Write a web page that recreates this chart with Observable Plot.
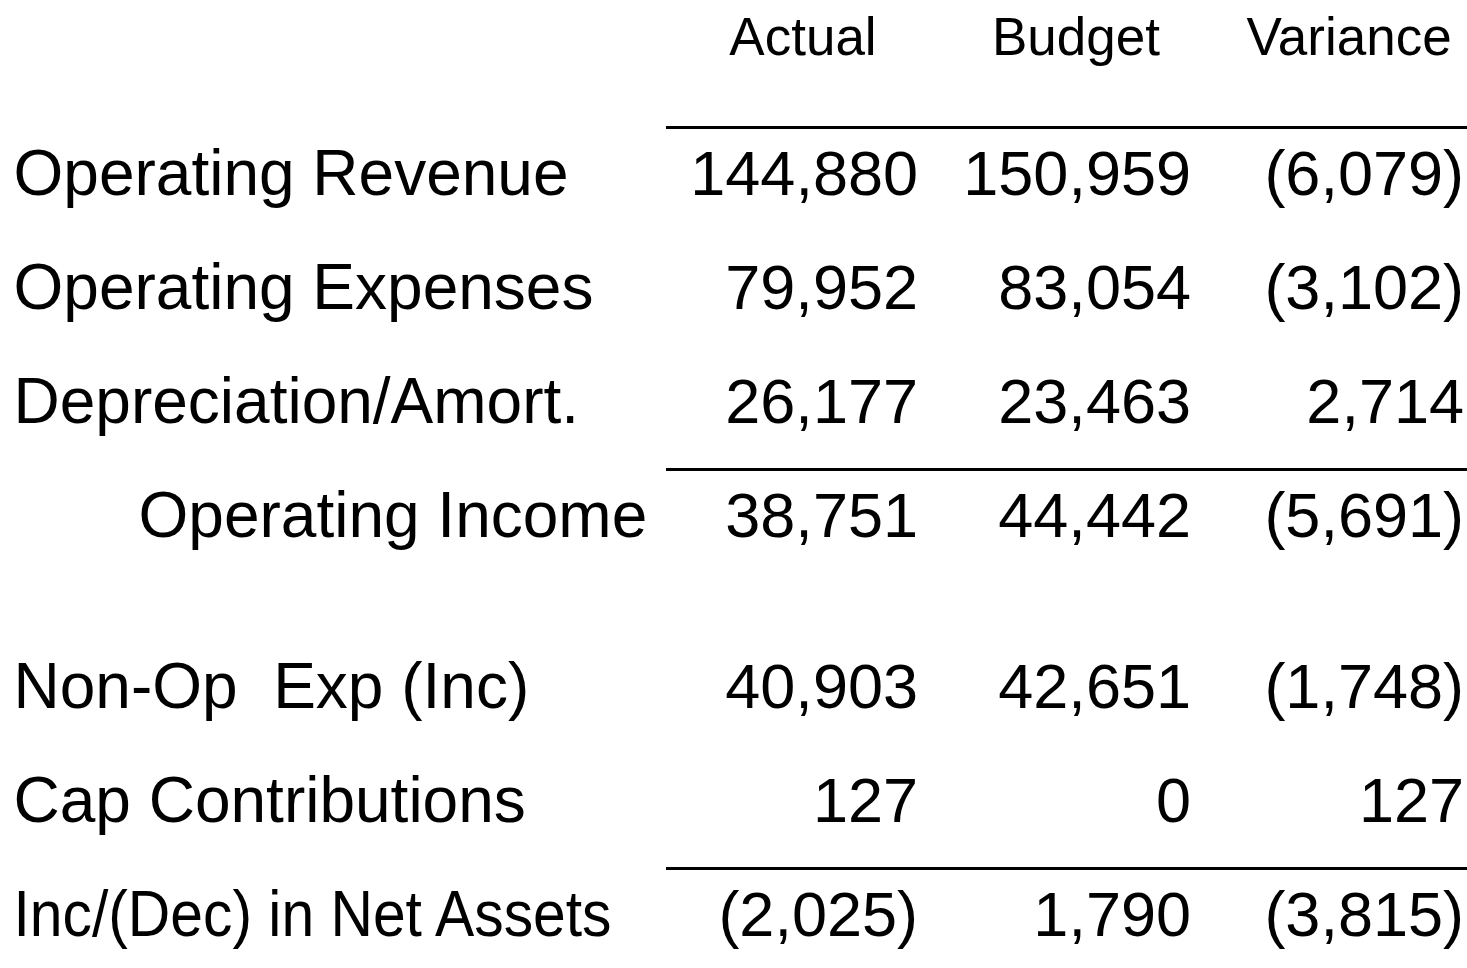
<!DOCTYPE html>
<html>
<head>
<meta charset="utf-8">
<script src="https://cdn.jsdelivr.net/npm/d3@7"></script>
<script src="https://cdn.jsdelivr.net/npm/@observablehq/plot@0.6"></script>
<style>
  html, body { margin: 0; padding: 0; background: #fff; overflow: hidden; }
  svg text { white-space: pre; }
</style>
</head>
<body>
<div id="chart"></div>
<script>
// ---- data ----
const columns = ["Actual", "Budget", "Variance"];
const labels = [
  "Operating Revenue",
  "Operating Expenses",
  "Depreciation/Amort.",
  "Operating Income",
  "Non-Op  Exp (Inc)",
  "Cap Contributions",
  "Inc/(Dec) in Net Assets"
];
const actual   = [144880, 79952, 26177, 38751, 40903, 127, -2025];
const budget   = [150959, 83054, 23463, 44442, 42651, 0, 1790];
const variance = [-6079, -3102, 2714, -5691, -1748, 127, -3815];
const subtotalRows = ["Operating Income"];
const ruledRows = ["Operating Revenue", "Operating Income", "Inc/(Dec) in Net Assets"];
const condensedRows = ["Inc/(Dec) in Net Assets"];

// row order with blank half-rows as spacers
const yDomain = [
  labels[0], "_s1", labels[1], "_s2", labels[2], "_s3", labels[3],
  "_s4", "_s5", labels[4], "_s6", labels[5], "_s7", labels[6]
];

const series = [actual, budget, variance];
const cells = labels.flatMap((row, i) =>
  columns.map((col, j) => ({row, col, value: series[j][i]}))
);
const ruleCells = ruledRows.flatMap(row => columns.map(col => ({row, col})));

const f = d3.format(",");
const fmt = v => v < 0 ? `(${f(-v)})` : f(v);

const chart = Plot.plot({
  width: 1467,
  height: 968,
  marginLeft: 13,
  marginTop: 60,
  marginRight: 0,
  marginBottom: 0,
  style: {
    fontFamily: '"Liberation Sans", Arial, Helvetica, sans-serif',
    background: "#fff",
    color: "#000",
    overflow: "hidden"
  },
  x: {type: "band", domain: columns, range: [665, 1485], padding: 0},
  y: {type: "point", domain: yDomain, range: [191, 938], padding: 0, axis: null},
  marks: [
    Plot.axisX({anchor: "top", tickSize: 0, tickPadding: 6, fontSize: 53, label: null}),
    Plot.tickY(ruleCells, {x: "col", y: "row", dy: -67, stroke: "#000", strokeWidth: 3}),
    Plot.text(labels.filter(d => !subtotalRows.includes(d)), {
      y: d => d, text: d => d, frameAnchor: "left", textAnchor: "start",
      lineAnchor: "bottom", fontSize: 64, fill: "#000"
    }),
    Plot.text(subtotalRows, {
      y: d => d, text: d => d, frameAnchor: "left", textAnchor: "start",
      lineAnchor: "bottom", fontSize: 64, fill: "#000", dx: 125
    }),
    Plot.text(cells, {
      x: "col", y: "row", text: d => fmt(d.value), textAnchor: "end",
      lineAnchor: "bottom", dx: 115, fontSize: 63, fill: "#000"
    })
  ]
});
// the last row label is set slightly condensed in the original
d3.select(chart).selectAll("text")
  .filter(function() { return condensedRows.includes(this.textContent); })
  .attr("textLength", 598)
  .attr("lengthAdjust", "spacingAndGlyphs");
document.getElementById("chart").appendChild(chart);
</script>
</body>
</html>
